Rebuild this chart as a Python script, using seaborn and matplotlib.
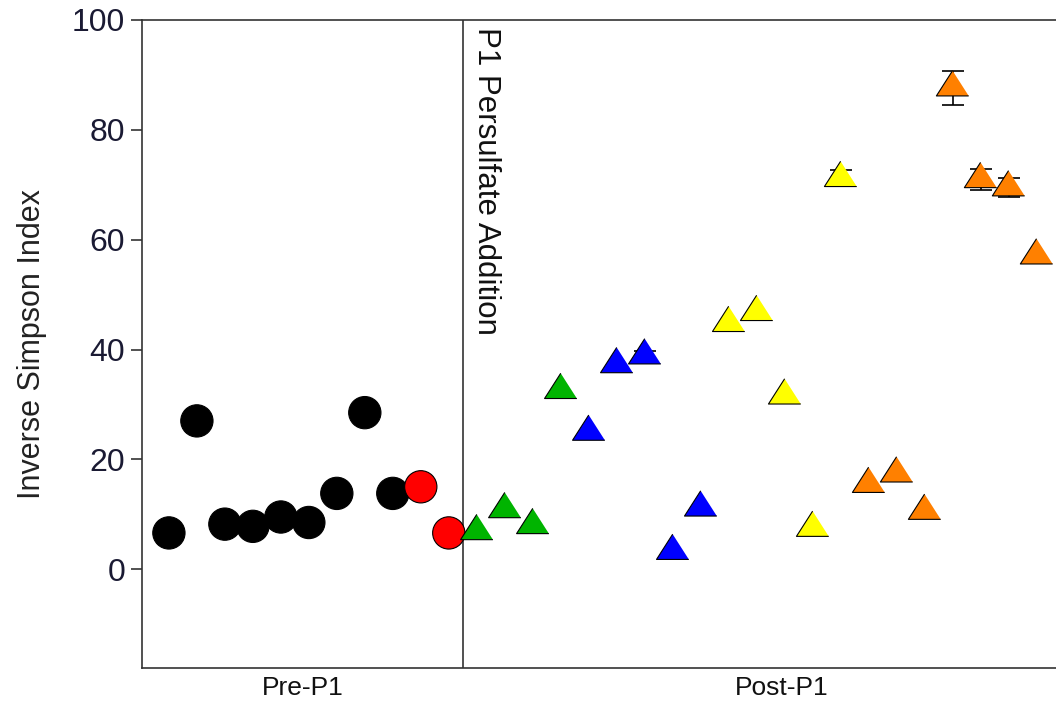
import numpy as np
import pandas as pd
import matplotlib
matplotlib.use("Agg")
import matplotlib.pyplot as plt
import seaborn as sns
from matplotlib import font_manager

# Inverse Simpson index per sample, in sampling order
pre_black = [6.6, 27.0, 8.2, 7.8, 9.5, 8.5, 13.8, 28.5, 13.8]
pre_red = [15.0, 6.6]
post_green = [6.9, 10.9, 8.0, 32.6]
post_blue = [25.0, 37.3, 38.9, 3.3, 11.2]
post_yellow = [44.8, 46.8, 31.6, 7.5, 71.2]
post_orange = [15.5, 17.4, 10.6, 87.7, 71.0, 69.5, 57.1]

# standard errors (zero where no bar is shown)
err_black = [0] * 9
err_red = [0, 0]
err_green = [0, 0, 0, 0]
err_blue = [0, 0, 0.8, 0, 0]
err_yellow = [0, 0, 0, 0, 1.4]
err_orange = [0, 0, 0, 3.1, 1.9, 1.8, 0]

group_colors = {
    "black": "#000000",
    "red": "#ff0000",
    "green": "#00b400",
    "blue": "#0000ff",
    "yellow": "#ffff00",
    "orange": "#ff8000",
}
period_labels = ["Pre-P1", "Post-P1"]

groups = [
    ("black", "circle", pre_black, err_black),
    ("red", "circle", pre_red, err_red),
    ("green", "triangle", post_green, err_green),
    ("blue", "triangle", post_blue, err_blue),
    ("yellow", "triangle", post_yellow, err_yellow),
    ("orange", "triangle", post_orange, err_orange),
]
rows = []
for name, shape, vals, errs in groups:
    for v, e in zip(vals, errs):
        rows.append({"group": name, "shape": shape, "value": v, "err": e})
df = pd.DataFrame(rows)
df["order"] = np.arange(len(df))

n_pre = len(pre_black) + len(pre_red)
event_x = n_pre - 0.5

sns.set_style("ticks")
names = set(font_manager.get_font_names())
base_font = "Liberation Sans" if "Liberation Sans" in names else "DejaVu Sans"
narrow_font = "Liberation Sans Narrow" if "Liberation Sans Narrow" in names else base_font
plt.rcParams["font.family"] = [base_font, "DejaVu Sans"]

fig = plt.figure(figsize=(10.56, 7.04), dpi=100)
ax = fig.add_axes([0.1345, 0.0511, 0.908, 0.9205])

# triangle with its centroid on the data point
tri = [(0.0, 16.7), (-16.0, -8.3), (16.0, -8.3)]

circ = df[df["shape"] == "circle"]
trid = df[df["shape"] == "triangle"]

# error bars sit underneath the markers
eb = df[df["err"] > 0]
ax.errorbar(eb["order"], eb["value"], yerr=eb["err"], fmt="none",
            ecolor="black", elinewidth=1.2, capsize=8, capthick=1.2, zorder=2)

ax.axvline(event_x, color="#333333", lw=1.2, zorder=1)

sns.scatterplot(data=circ, x="order", y="value", hue="group",
                palette=group_colors, marker="o", s=540,
                edgecolor="black", linewidth=0.8, legend=False, ax=ax, zorder=3)
sns.scatterplot(data=trid, x="order", y="value", hue="group",
                palette=group_colors, marker=tri, s=590,
                edgecolor="black", linewidth=0.8, legend=False, ax=ax, zorder=3)

ax.set_xlim(-0.96, 33.3)
ax.set_ylim(-18, 100)
ax.set_yticks([0, 20, 40, 60, 80, 100])
ax.set_xticks([(-0.96 + event_x) / 2, (event_x + 33.3) / 2])
ax.set_xticklabels(period_labels, fontsize=19, family=[narrow_font, "DejaVu Sans"],
                   color="#111111")
ax.tick_params(axis="x", length=0, pad=6)
ax.tick_params(axis="y", direction="out", length=8, width=1.2, labelsize=23,
               labelcolor="#1a1a33", color="#333333", pad=4)
ax.set_xlabel("")
ax.set_ylabel("Inverse Simpson Index", fontsize=22, color="#222222", labelpad=18)

for side in ["left", "bottom", "top", "right"]:
    ax.spines[side].set_color("#333333")
    ax.spines[side].set_linewidth(1.2)

ax.annotate("P1 Persulfate Addition", xy=(event_x, 100), xycoords="data",
            xytext=(6, -5), textcoords="offset points", rotation=270,
            ha="left", va="top", fontsize=22.5, color="#111111")

fig.savefig("out.png", dpi=100)
